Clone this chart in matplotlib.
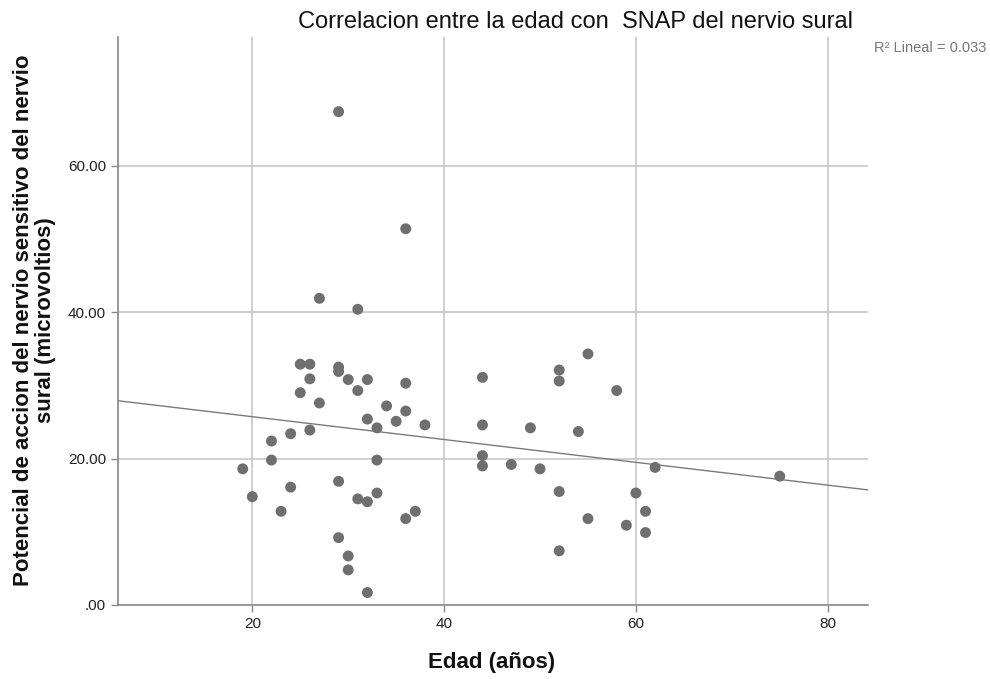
import numpy as np
import matplotlib
matplotlib.use("Agg")
import matplotlib.pyplot as plt
from matplotlib.ticker import FuncFormatter

plt.rcParams['font.family'] = ['Liberation Sans', 'DejaVu Sans']

# Edad (años) vs SNAP del nervio sural (microvoltios)
edad = [29, 36, 27, 31, 25, 26, 29, 29, 26, 30, 32, 36, 25, 31, 27, 34, 36,
        32, 35, 38, 33, 26, 24, 22, 22, 33, 19, 29, 24, 20, 33, 31, 32, 23,
        37, 36, 29, 30, 30, 32,
        44, 52, 52, 55, 58, 44, 49, 54, 44, 44, 47, 50, 62, 75, 52, 60, 61,
        55, 59, 61, 52]
snap = [67.4, 51.4, 41.9, 40.4, 32.9, 32.9, 32.5, 31.9, 30.9, 30.8, 30.8,
        30.3, 29.0, 29.3, 27.6, 27.2, 26.5, 25.4, 25.1, 24.6, 24.2, 23.9,
        23.4, 22.4, 19.8, 19.8, 18.6, 16.9, 16.1, 14.8, 15.3, 14.5, 14.1,
        12.8, 12.8, 11.8, 9.2, 6.7, 4.8, 1.7,
        31.1, 32.1, 30.6, 34.3, 29.3, 24.6, 24.2, 23.7, 20.4, 19.0, 19.2,
        18.6, 18.8, 17.6, 15.5, 15.3, 12.8, 11.8, 10.9, 9.9, 7.4]

x_ticks = [20, 40, 60, 80]
y_ticks = [0, 20, 40, 60]

fig = plt.figure(figsize=(9.9, 6.79), dpi=100)
ax = fig.add_axes([0.1192, 0.109, 0.7576, 0.8365])

ax.set_xlim(6, 84.2)
ax.set_ylim(0, 77.6)

# grid
for xv in x_ticks:
    ax.axvline(xv, color='#c4c4c4', linewidth=1.1, zorder=0)
for yv in y_ticks[1:]:
    ax.axhline(yv, color='#c4c4c4', linewidth=1.1, zorder=0)

ax.scatter(edad, snap, s=62, color='#6f6f6f', edgecolors='none', zorder=3)

# linear fit
slope, intercept = np.polyfit(edad, snap, 1)
xs = np.array(ax.get_xlim())
ax.plot(xs, intercept + slope * xs, color='#7a7a7a', linewidth=1.0, zorder=2)

ax.set_xticks(x_ticks)
ax.set_yticks(y_ticks)
ax.yaxis.set_major_formatter(FuncFormatter(
    lambda v, p: f"{v:.2f}".lstrip('0') if v == 0 else f"{v:.2f}"))

for side in ['top', 'right']:
    ax.spines[side].set_visible(False)
for side in ['left', 'bottom']:
    ax.spines[side].set_color('#888888')
    ax.spines[side].set_linewidth(1.2)
ax.tick_params(axis='both', colors='#888888', labelcolor='#222222',
               labelsize=11, length=5, width=1)

fig.text(0.497, 0.024, 'Edad (años)', ha='center', va='center',
         fontsize=16, fontweight='bold', color='#111111')
fig.text(0.035, 0.528,
         'Potencial de accion del nervio sensitivo del nervio\nsural (microvoltios)',
         ha='center', va='center', rotation=90, fontsize=16,
         fontweight='bold', color='#111111', linespacing=1.05)

fig.text(0.581, 0.968, 'Correlacion entre la edad con  SNAP del nervio sural',
         ha='center', va='center', fontsize=17, color='#111111')
fig.text(0.883, 0.929, 'R² Lineal = 0.033', ha='left', va='center',
         fontsize=10.5, color='#777777')

fig.savefig('out.png', dpi=100)
